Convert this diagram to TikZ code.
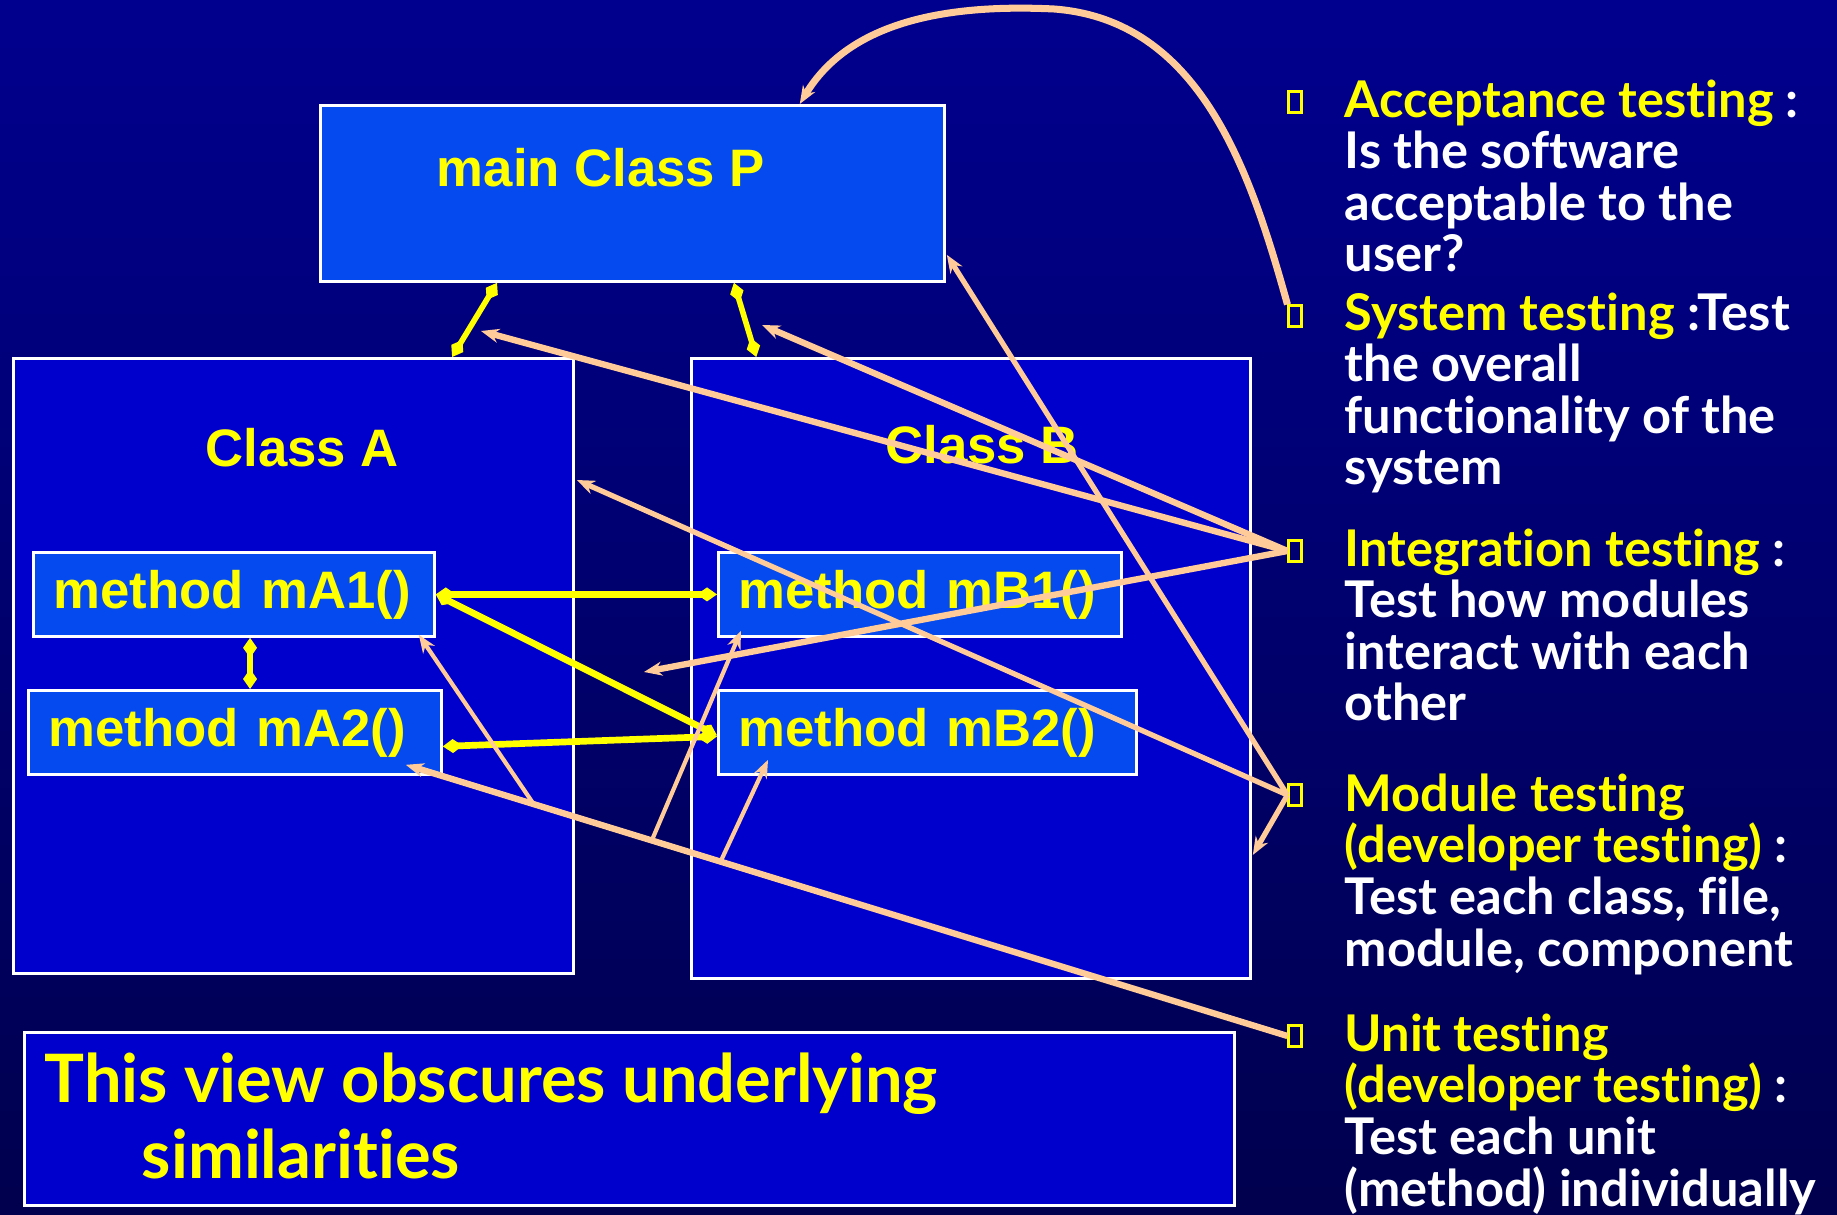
\documentclass[tikz,border=0pt]{standalone}
\usepackage{fontspec}
\setmainfont{Liberation Sans}
\newfontfamily\gill{Lato}[Ligatures=NoCommon]
\usetikzlibrary{arrows.meta,positioning,calc}
\definecolor{Navy}{HTML}{00008E}
\definecolor{DeepNavy}{HTML}{00004E}
\definecolor{BoxBlue}{HTML}{0000CC}
\definecolor{Bright}{HTML}{054AEE}
\definecolor{Tan}{HTML}{FFCC99}
\definecolor{Yel}{HTML}{FFFF00}
\tikzset{
  cls/.style={draw=white,line width=.8pt,fill=BoxBlue,inner sep=0pt,anchor=north west},
  meth/.style={draw=white,line width=.8pt,fill=Bright,anchor=north west,minimum height=8.4mm,inner xsep=2mm,inner ysep=0pt,align=left,text=Yel,font=\fontsize{15}{18}\selectfont\bfseries},
  ttl/.style={text=Yel,inner sep=0pt,font=\fontsize{15}{18}\selectfont\bfseries},
  blt/.style={draw=Yel,line width=.6pt,minimum width=1.3mm,minimum height=2.1mm,inner sep=0pt},
  txt/.style={anchor=base west,inner sep=0pt,align=left,text=white,font=\gill\bfseries\fontsize{14.4}{14.7}\selectfont},
  link/.style={{Diamond[length=2mm,width=1.4mm]}-{Diamond[length=2mm,width=1.4mm]},draw=Yel,line width=1.9pt},
  tst/.style={-{Stealth[length=1.8mm,width=1.4mm]},draw=Tan,line width=1.5pt},
}
\begin{document}
\begin{tikzpicture}[x=0.1mm,y=-0.1mm]
  \useasboundingbox (0,0) rectangle (1837,1215);
  \fill[top color=Navy,bottom color=DeepNavy] (0,0) rectangle (1837,1215);
  \node[cls,minimum width=56mm,minimum height=61.5mm] (classA) at (12,357) {};
  \node[cls,minimum width=55.9mm,minimum height=62mm] (classB) at (690,357) {};
  \node[cls,fill=Bright,minimum width=62.4mm,minimum height=17.6mm] (mainP) at (319,104) {};
  \node[ttl] (lblP) at (601,168) {main Class P};
  \node[ttl] (lblA) at (302,448) {Class A};
  \node[ttl] (lblB) at (982,445) {Class B};
  \node[meth,text width=36.1mm] (mA1) at (32,551) {method mA1()};
  \node[meth,text width=37.3mm] (mA2) at (27,689) {method mA2()};
  \node[meth,text width=36.3mm] (mB1) at (717,551) {method mB1()};
  \node[meth,text width=37.8mm] (mB2) at (717,689) {method mB2()};
  \node[cls,minimum width=121mm,minimum height=17.3mm] (note) at (23,1031) {};
  \node[anchor=base west,inner sep=0pt,align=left,text=Yel,font=\gill\bfseries\fontsize{19}{21.6}\selectfont] (noteTxt) at (44,1178) {This view obscures underlying\\\hspace{9.7mm}similarities};

  \draw[link,line width=1.6pt] ($(mainP.south west)!.284!(mainP.south east)$) -- ($(classA.north west)!.782!(classA.north east)$);
  \draw[link,line width=1.6pt] ($(mainP.south west)!.662!(mainP.south east)$) -- ($(classB.north west)!.118!(classB.north east)$);
  \draw[link] ($(mA1.south west)!.54!(mA1.south east)$) coordinate (k) -- (k |- mA2.north);
  \draw[link] (mA1.east) -- (mB1.west);
  \draw[link] (mA1.east) -- ($(mB2.west)+(0,3)$);
  \draw[link] ($(mA2.east)+(0,14)$) -- ($(mB2.west)+(0,4)$);

  \node[blt] (bAcc) at (1295,102) {};
  \node[blt] (bSys) at (1295,316) {};
  \node[blt] (bInt) at (1295,551) {};
  \node[blt] (bMod) at (1295,795) {};
  \node[blt] (bUnit) at (1295,1036) {};
  \node[txt] (tAcc) at (1344,272) {\textcolor{Yel}{Acceptance testing} :\\Is the software\\acceptable to the\\user?};
  \node[txt] (tSys) at (1344,485) {\textcolor{Yel}{System testing} :Test\\the overall\\functionality of the\\system};
  \node[txt] (tInt) at (1344,721) {\textcolor{Yel}{Integration testing} :\\Test how modules\\interact with each\\other};
  \node[txt] (tMod) at (1344,966) {\textcolor{Yel}{Module testing}\\\textcolor{Yel}{(developer testing)} :\\Test each class, file,\\module, component};
  \node[txt] (tUnit) at (1344,1206) {\textcolor{Yel}{Unit testing}\\\textcolor{Yel}{(developer testing)} :\\Test each unit\\(method) individually};

  \draw[tst,line width=2pt] (bSys.north west) .. controls (1250,170) and (1200,20) .. (1054,9) .. controls (950,4) and (850,20) .. ($(mainP.north west)!.767!(mainP.north east)$);
  \coordinate (iPA) at (481,331);
  \coordinate (iPB) at (762,325);
  \coordinate (iAB) at (644,672);
  \foreach \t in {iPA,iPB,iAB}
    \draw[tst,line width=1.8pt] (bInt.west) -- (\t);
  \draw[tst] (bMod.west) -- ($(mainP.south east)+(1,-28)$);
  \draw[tst] (bMod.west) -- ($(classA.north east)+(2,123)$);
  \draw[tst] (bMod.west) -- ($(classB.north east)+(1,498)$);
  \coordinate (uA2) at ($(mA2.south east)+(-37,-11)$);
  \draw[tst,line width=1.8pt] (bUnit.west) -- (uA2) coordinate[pos=.855] (j1) coordinate[pos=.721] (j2) coordinate[pos=.643] (j3);
  \draw[tst,line width=1.2pt] (j1) -- ($(mA1.south east)+(-17,-3)$);
  \draw[tst,line width=1.2pt] (j2) -- ($(mB1.south west)+(24,-7)$);
  \draw[tst,line width=1.2pt] (j3) -- ($(mB2.south west)+(51,-16)$);
\end{tikzpicture}
\end{document}
